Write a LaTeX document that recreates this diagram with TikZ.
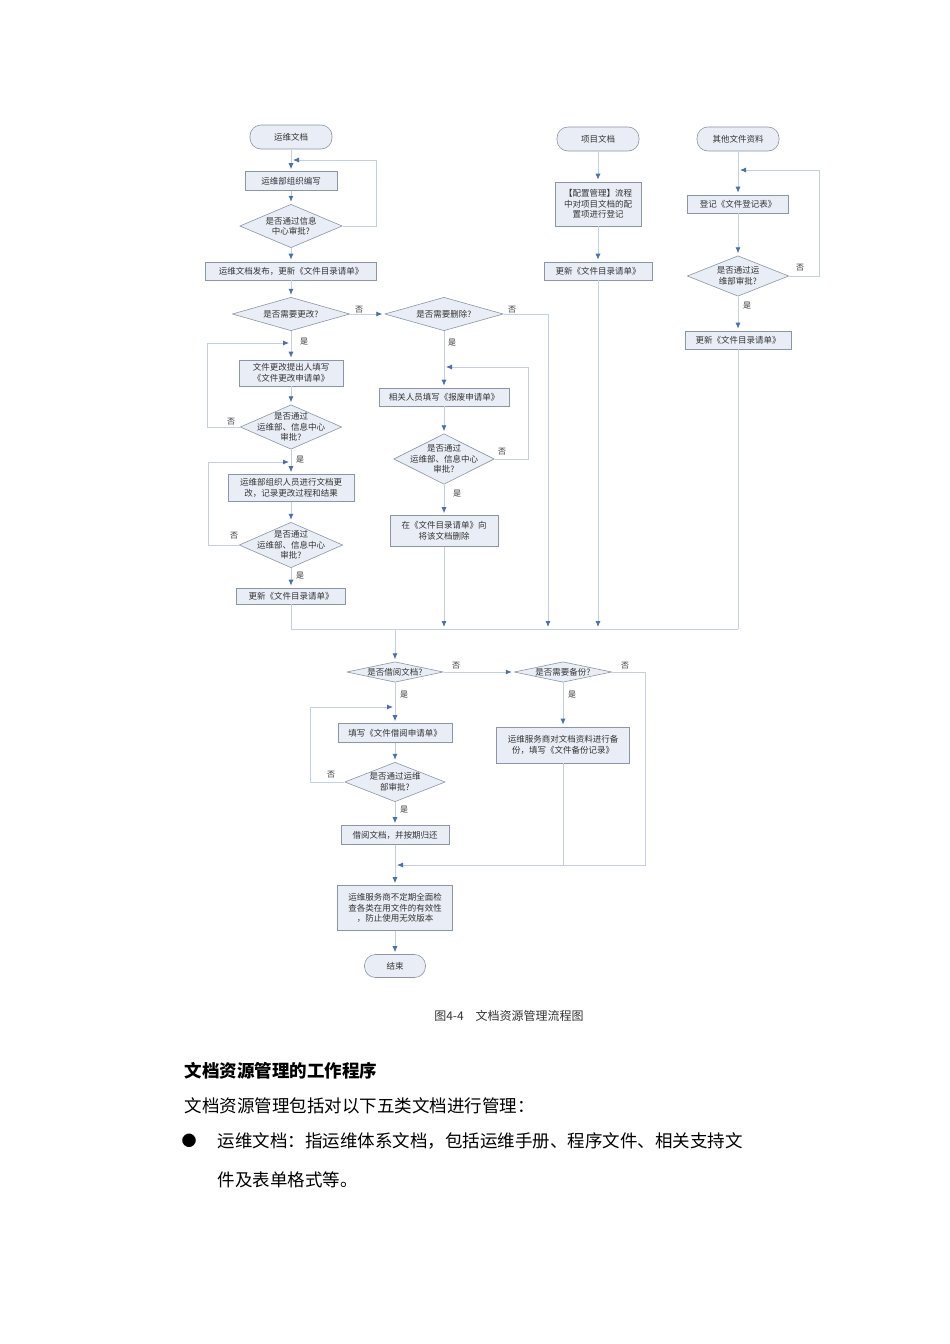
\documentclass[tikz,border=0pt]{standalone}
\usepackage{fontspec}
\setmainfont{Noto Sans CJK SC}
\usetikzlibrary{arrows.meta}
\definecolor{linec}{HTML}{C3D0E0}
\definecolor{arrc}{HTML}{4A70B0}
\definecolor{boxfill}{HTML}{E9EEF6}
\definecolor{boxline}{HTML}{8A96A6}
\begin{document}
\begin{tikzpicture}[x=1pt,y=-1pt,
  every node/.style={font=\fontsize{8.5}{10.5}\selectfont, text=black!80},
  bx/.style={draw=boxline, fill=boxfill, align=center, inner sep=1pt, line width=0.6pt},
  term/.style={bx, rounded corners=11pt, minimum width=82, minimum height=24},
  dia/.style={rectangle, inner sep=0, align=center, path picture={
     \draw[fill=boxfill,draw=boxline,line width=0.6pt]
       ([yshift=-0.4pt]path picture bounding box.north) -- ([xshift=-0.4pt]path picture bounding box.east)
       -- ([yshift=0.4pt]path picture bounding box.south) -- ([xshift=0.4pt]path picture bounding box.west) -- cycle;}},
  ln/.style={draw=linec, line width=0.8pt},
  arr/.style={ln, -{Latex[length=6pt,width=5pt,color=arrc]}, shorten >=2pt},
  lab/.style={font=\fontsize{8}{9}\selectfont}]
\path[use as bounding box, fill=white] (0,0) rectangle (950,1344);

% left column
\node[term] (s1) at (291,137) {运维文档};
\node[bx, minimum width=92, minimum height=19] (b1) at (291,181) {运维部组织编写};
\node[dia, minimum width=103, minimum height=44] (d1) at (291,226) {是否通过信息\\中心审批?};
\node[bx, minimum width=171, minimum height=18] (b2) at (291,271) {运维文档发布，更新《文件目录请单》};
\node[dia, minimum width=118, minimum height=34] (d2) at (291,314) {是否需要更改?};
\node[bx, minimum width=104, minimum height=26] (b3) at (291,373) {文件更改提出人填写\\《文件更改申请单》};
\node[dia, minimum width=102, minimum height=45] (d4) at (291,427) {是否通过\\运维部、信息中心\\审批?};
\node[bx, minimum width=126, minimum height=27] (b4) at (291,488) {运维部组织人员进行文档更\\改，记录更改过程和结果};
\node[dia, minimum width=104, minimum height=46] (d5) at (291,545) {是否通过\\运维部、信息中心\\审批?};
\node[bx, minimum width=109, minimum height=16] (b5) at (291,596) {更新《文件目录请单》};

% middle column
\node[dia, minimum width=119, minimum height=34] (d3) at (444,314) {是否需要删除?};
\node[bx, minimum width=130, minimum height=18] (b6) at (444,397) {相关人员填写《报废申请单》};
\node[dia, minimum width=101, minimum height=51] (d7) at (444,459) {是否通过\\运维部、信息中心\\审批?};
\node[bx, minimum width=108, minimum height=31] (b7) at (444,531) {在《文件目录请单》向\\将该文档删除};

% project column
\node[term] (s2) at (598,139) {项目文档};
\node[bx, minimum width=86, minimum height=44] (b8) at (598,204) {【配置管理】流程\\中对项目文档的配\\置项进行登记};
\node[bx, minimum width=108, minimum height=18] (b9) at (598,271) {更新《文件目录请单》};

% other column
\node[term] (s3) at (738,139) {其他文件资料};
\node[bx, minimum width=101, minimum height=18] (b10) at (738,204) {登记《文件登记表》};
\node[dia, minimum width=102, minimum height=41] (d8) at (738,276) {是否通过运\\维部审批?};
\node[bx, minimum width=106, minimum height=18] (b11) at (738,340) {更新《文件目录请单》};

% bottom
\node[dia, minimum width=97, minimum height=21] (d6) at (395,672) {是否借阅文档?};
\node[dia, minimum width=98, minimum height=21] (d9) at (563,672) {是否需要备份?};
\node[bx, minimum width=114, minimum height=19] (b12) at (395,733) {填写《文件借阅申请单》};
\node[dia, minimum width=101, minimum height=40] (d10) at (395,782) {是否通过运维\\部审批?};
\node[bx, minimum width=108, minimum height=19] (b13) at (395,835) {借阅文档，并按期归还};
\node[bx, minimum width=133, minimum height=36] (b15) at (563,745) {运维服务商对文档资料进行备\\份，填写《文件备份记录》};
\node[bx, minimum width=115, minimum height=45] (b14) at (395,908) {运维服务商不定期全面检\\查各类在用文件的有效性\\，防止使用无效版本};
\node[term, minimum width=61, minimum height=23] (e) at (395,966) {结束};

\coordinate (j1) at (291,629);
\coordinate (j2) at (738,629);
\coordinate (j3) at (395,629);
\coordinate (j4) at (395,865);

% left connectors
\draw[arr] (s1) -- (b1);
\draw[arr] (b1) -- (d1);
\draw[arr] (d1.east) -- (376,226) |- (291,160);
\draw[arr] (d1) -- (b2);
\draw[arr] (b2) -- (d2);
\draw[arr] (d2.east) -- (d3.west);
\node[lab] at (359,310) {否};
\draw[arr] (d2) -- (b3);
\node[lab] at (304,342) {是};
\draw[arr] (d4.west) -- (207,427) |- (291,343);
\node[lab] at (231,422) {否};
\draw[arr] (b3) -- (d4);
\draw[arr] (d4) -- (b4);
\node[lab] at (300,460) {是};
\draw[arr] (d5.west) -- (208,545) |- (291,462);
\node[lab] at (234,536) {否};
\draw[arr] (b4) -- (d5);
\draw[arr] (d5) -- (b5);
\node[lab] at (300,576) {是};
\draw[ln] (b5) -- (j1) -- (j2);
\draw[ln] (b11) -- (j2);

% middle
\draw[arr] (d3.east) -- (548,314) -- (548,629);
\node[lab] at (512,310) {否};
\draw[arr] (d3) -- (b6);
\node[lab] at (452,343) {是};
\draw[arr] (d7.east) -- (528,459) |- (444,367);
\node[lab] at (502,452) {否};
\draw[arr] (b6) -- (d7);
\draw[arr] (d7) -- (b7);
\node[lab] at (457,494) {是};
\draw[arr] (b7) -- (444,629);

% project
\draw[arr] (s2) -- (b8);
\draw[arr] (b8) -- (b9);
\draw[arr] (b9) -- (598,629);

% other
\draw[arr] (s3) -- (b10);
\draw[arr] (b10) -- (d8);
\draw[arr] (d8.east) -- (819,276) |- (738,170);
\node[lab] at (800,268) {否};
\draw[arr] (d8) -- (b11);
\node[lab] at (747,306) {是};

% bottom
\draw[arr] (j3) -- (d6);
\draw[arr] (d6.east) -- (d9.west);
\node[lab] at (456,666) {否};
\draw[arr] (d9.east) -- (645,672) |- (j4);
\node[lab] at (625,666) {否};
\draw[arr] (d6) -- (b12);
\node[lab] at (404,695) {是};
\draw[arr] (d10.west) -- (310,782) |- (395,707);
\node[lab] at (331,775) {否};
\draw[arr] (b12) -- (d10);
\draw[arr] (d10) -- (b13);
\node[lab] at (404,810) {是};
\draw[arr] (b13) -- (b14);
\draw[arr] (d9) -- (b15);
\node[lab] at (572,695) {是};
\draw[ln] (b15) -- (563,865);
\draw[arr] (b14) -- (e);

% text below
\node[font=\fontsize{12}{14}\selectfont] (cap) at (509,1016) {图4-4　文档资源管理流程图};
\node[anchor=west, font=\fontsize{17.5}{20}\selectfont\bfseries, text=black] (h) at (181,1071) {文档资源管理的工作程序};
\node[anchor=west, font=\fontsize{17.5}{20}\selectfont, text=black] (p1) at (181,1106) {文档资源管理包括对以下五类文档进行管理：};
\node[font=\fontsize{15}{18}\selectfont, text=black] (bul) at (189,1141) {●};
\node[anchor=west, font=\fontsize{17.5}{20}\selectfont, text=black] (p2) at (214,1141) {运维文档：指运维体系文档，包括运维手册、程序文件、相关支持文};
\node[anchor=west, font=\fontsize{17.5}{20}\selectfont, text=black] (p3) at (214,1180) {件及表单格式等。};
\end{tikzpicture}
\end{document}
